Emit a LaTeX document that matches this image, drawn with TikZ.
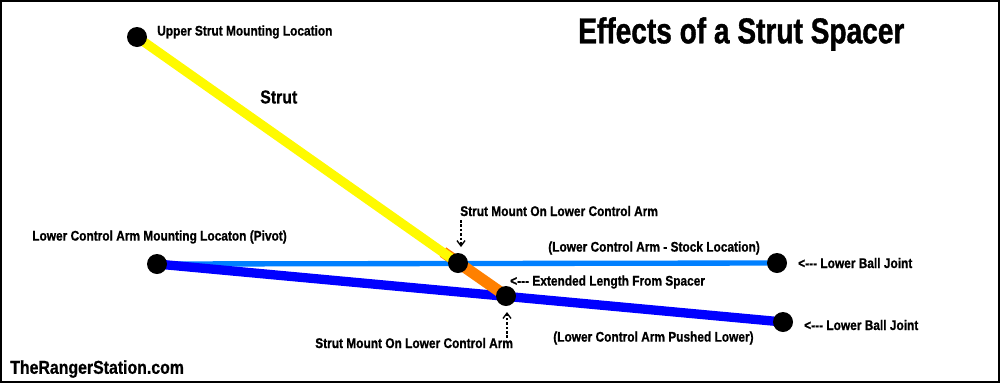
\documentclass[tikz,border=0pt]{standalone}
\usepackage{fontspec}
\setmainfont{Liberation Sans}[FakeStretch=0.85,BoldFeatures={FakeBold=0.8}]
\newfontfamily\titlefont{Liberation Sans Bold}[FakeStretch=0.78,FakeBold=1]
\usetikzlibrary{arrows.meta}
\definecolor{strutyellow}{RGB}{255,250,0}
\definecolor{spacerorange}{RGB}{255,128,0}
\definecolor{stockblue}{RGB}{0,128,255}
\definecolor{lowblue}{RGB}{0,0,255}
\begin{document}
\begin{tikzpicture}[x=0.75pt,y=-0.75pt,
  joint/.style={circle,fill=black,inner sep=0pt,minimum size=15pt},
  lbl/.style={font=\bfseries\fontsize{10.5}{12}\selectfont,inner sep=0pt,anchor=west},
  pointer/.style={line width=1.1pt,dash pattern=on 2pt off 1.3pt,-{Straight Barb[length=4pt,width=6pt,line width=1pt]}}]
\useasboundingbox (0,0) rectangle (1000,383);
\draw[line width=1.5pt] (1,1) rectangle (999,382);
% coordinates
\coordinate (up) at (137,37);
\coordinate (pivot) at (157,264);
\coordinate (smount) at (458,263);
\coordinate (sball) at (777,263);
\coordinate (lmount) at (506,296);
\coordinate (lball) at (783,322);
\coordinate (ostart) at (443,252);
% arms
\draw[stockblue,line width=4pt] (pivot) -- (sball);
\draw[lowblue,line width=7pt] (pivot) -- (lball);
% strut
\draw[spacerorange,line width=8.5pt] (ostart) -- (lmount);
\draw[strutyellow,line width=7pt] (up) -- (smount);
% joints
\node[joint] (jup) at (up) {};
\node[joint] (jpivot) at (pivot) {};
\node[joint] (jsmount) at (smount) {};
\node[joint] (jsball) at (sball) {};
\node[joint] (jlmount) at (lmount) {};
\node[joint] (jlball) at (lball) {};
% labels
\node[font=\titlefont\fontsize{27}{30}\selectfont,inner sep=0pt,anchor=west] (title) at (578,34) {Effects of a Strut Spacer};
\node[lbl] (tup) at (157,32) {Upper Strut Mounting Location};
\node[font=\bfseries\fontsize{14}{16}\selectfont,inner sep=0pt,anchor=west] (tstrut) at (260,97) {Strut};
\node[lbl] (tsm) at (460,211) {Strut Mount On Lower Control Arm};
\node[lbl] (tpivot) at (32,237) {Lower Control Arm Mounting Locaton (Pivot)};
\node[lbl] (tstock) at (548,248) {(Lower Control Arm - Stock Location)};
\node[lbl] (tsb) at (798,263) {<-{}-{}- Lower Ball Joint};
\node[lbl] (text) at (510,282) {<-{}-{}- Extended Length From Spacer};
\node[lbl] (tlm) at (315,343) {Strut Mount On Lower Control Arm};
\node[lbl] (tlow) at (553,338) {(Lower Control Arm Pushed Lower)};
\node[lbl] (tlb) at (804,325) {<-{}-{}- Lower Ball Joint};
\node[font=\bfseries\fontsize{14}{17}\selectfont,inner sep=0pt,anchor=west] (site) at (10,369) {TheRangerStation.com};
% pointers
\coordinate (p1s) at (461,220);
\coordinate (p1e) at (461,247);
\coordinate (p2s) at (507,338);
\coordinate (p2e) at (507,312);
\draw[pointer] (p1s) -- (p1e);
\draw[pointer] (p2s) -- (p2e);
\end{tikzpicture}
\end{document}
